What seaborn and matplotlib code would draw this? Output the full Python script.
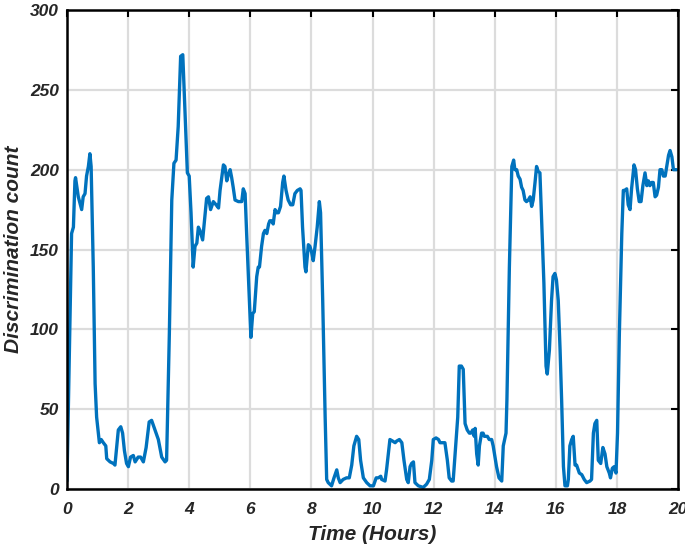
import numpy as np
import pandas as pd
import matplotlib
matplotlib.use("Agg")
import matplotlib.pyplot as plt
import seaborn as sns

# values
hours = [0.0, 0.15, 0.21, 0.26, 0.28, 0.37, 0.48, 0.53, 0.59, 0.64, 0.70, 0.75, 0.79,
         0.86, 0.92, 0.97, 1.06, 1.12, 1.19, 1.27, 1.30, 1.41, 1.52, 1.57, 1.63, 1.68,
         1.76, 1.82, 1.88, 1.95, 2.01, 2.08, 2.17, 2.23, 2.33, 2.41, 2.50, 2.59, 2.69,
         2.77, 2.88, 2.99, 3.10, 3.21, 3.26, 3.35, 3.43, 3.50, 3.57, 3.64, 3.72, 3.79,
         3.86, 3.94, 4.00, 4.06, 4.13, 4.19, 4.25, 4.30, 4.35, 4.44, 4.49, 4.57, 4.63,
         4.70, 4.79, 4.88, 4.96, 5.01, 5.12, 5.17, 5.23, 5.28, 5.34, 5.39, 5.44, 5.50,
         5.61, 5.72, 5.77, 5.83, 5.88, 5.97, 6.02, 6.08, 6.13, 6.21, 6.26, 6.30, 6.37,
         6.43, 6.48, 6.54, 6.60, 6.64, 6.70, 6.75, 6.81, 6.86, 6.92, 6.99, 7.06, 7.10,
         7.17, 7.24, 7.32, 7.39, 7.46, 7.54, 7.63, 7.66, 7.71, 7.79, 7.82, 7.90, 7.95,
         8.01, 8.06, 8.12, 8.19, 8.26, 8.30, 8.37, 8.45, 8.50, 8.55, 8.66, 8.74, 8.83,
         8.88, 8.94, 9.04, 9.15, 9.24, 9.32, 9.39, 9.48, 9.55, 9.61, 9.70, 9.81, 9.92,
         10.03, 10.12, 10.19, 10.27, 10.30, 10.41, 10.46, 10.57, 10.66, 10.74, 10.79,
         10.88, 10.96, 11.03, 11.12, 11.17, 11.23, 11.28, 11.34, 11.39, 11.50, 11.66,
         11.77, 11.86, 11.94, 11.99, 12.08, 12.16, 12.21, 12.30, 12.37, 12.45, 12.51,
         12.59, 12.64, 12.73, 12.79, 12.84, 12.91, 12.97, 13.03, 13.10, 13.17, 13.22,
         13.28, 13.33, 13.36, 13.41, 13.46, 13.50, 13.57, 13.62, 13.66, 13.76, 13.82,
         13.90, 13.95, 14.06, 14.14, 14.23, 14.28, 14.37, 14.40, 14.48, 14.56, 14.62,
         14.66, 14.72, 14.77, 14.83, 14.88, 14.93, 14.99, 15.04, 15.10, 15.16, 15.21,
         15.26, 15.32, 15.37, 15.42, 15.48, 15.53, 15.61, 15.68, 15.72, 15.79, 15.86,
         15.91, 15.97, 16.02, 16.08, 16.14, 16.19, 16.25, 16.30, 16.38, 16.41, 16.46,
         16.52, 16.57, 16.63, 16.68, 16.77, 16.85, 16.93, 17.01, 17.12, 17.17, 17.23,
         17.28, 17.34, 17.39, 17.47, 17.54, 17.61, 17.67, 17.75, 17.79, 17.85, 17.91,
         17.97, 18.02, 18.08, 18.16, 18.21, 18.26, 18.32, 18.37, 18.43, 18.48, 18.56,
         18.61, 18.67, 18.73, 18.79, 18.85, 18.92, 18.98, 19.03, 19.08, 19.14, 19.19,
         19.25, 19.30, 19.36, 19.41, 19.47, 19.52, 19.58, 19.63, 19.69, 19.74, 19.80,
         19.85, 19.95]

counts = [5, 160, 164, 193, 195, 183, 175, 183, 185, 196, 202, 210, 202,
          139, 66, 45, 29, 31, 29, 27, 19, 17, 16, 15, 27, 37,
          39, 35, 24, 16, 14, 20, 21, 17, 20, 20, 17, 26, 42,
          43, 37, 31, 20, 17, 18, 97, 181, 204, 206, 227, 271, 272,
          237, 198, 196, 173, 139, 152, 154, 164, 162, 156, 166, 182, 183,
          175, 180, 178, 176, 187, 203, 202, 193, 197, 200, 195, 189, 181,
          180, 180, 188, 185, 160, 118, 95, 110, 111, 133, 139, 139, 152,
          160, 162, 160, 166, 168, 168, 166, 175, 173, 173, 177, 192, 196,
          187, 181, 178, 178, 185, 187, 188, 187, 164, 139, 136, 153, 152,
          148, 143, 152, 164, 180, 173, 118, 45, 6, 4, 2, 7, 12,
          7, 4, 6, 7, 7, 15, 27, 33, 31, 18, 7, 4, 2,
          2, 7, 7, 8, 6, 5, 12, 31, 30, 29, 30,
          31, 29, 18, 6, 4, 14, 16, 17, 4, 2, 1,
          3, 6, 18, 31, 32, 31, 29, 29, 29, 18, 7,
          5, 5, 29, 45, 77, 77, 75, 41, 37, 35, 35,
          37, 33, 38, 22, 15, 27, 35, 35, 33, 33, 31,
          31, 27, 14, 7, 5, 27, 35, 56, 139, 202, 206,
          200, 200, 196, 194, 189, 187, 181, 180, 181, 183, 177,
          181, 192, 202, 199, 198, 171, 129, 77, 72, 87, 118,
          133, 135, 131, 118, 87, 56, 14, 2, 2, 6, 27,
          31, 33, 15, 15, 10, 9, 6, 4, 5, 6, 35,
          41, 43, 18, 16, 26, 22, 14, 10, 7, 13, 14,
          10, 35, 97, 160, 187, 187, 188, 178, 175, 188, 203,
          200, 188, 180, 180, 190, 198, 190, 193, 190, 192, 192,
          183, 184, 189, 200, 200, 196, 196, 202, 209, 212, 208,
          200, 200]

x_ticks = [0, 2, 4, 6, 8, 10, 12, 14, 16, 18, 20]
y_ticks = [0, 50, 100, 150, 200, 250, 300]

df = pd.DataFrame({"hours": hours, "count": counts})

sns.set_style("white")
plt.rcParams["font.family"] = ["Liberation Sans", "DejaVu Sans"]

fig = plt.figure(figsize=(6.85, 5.52), dpi=100)
ax = fig.add_axes([0.0978, 0.1141, 0.892, 0.8678])

sns.lineplot(data=df, x="hours", y="count", ax=ax, color="#0072BD",
             linewidth=2.4, estimator=None, sort=False)

ax.set_xlim(0, 20)
ax.set_ylim(0, 300)
ax.set_xticks(x_ticks)
ax.set_yticks(y_ticks)
ax.set_xticklabels([str(t) for t in x_ticks], fontsize=12.5,
                   fontweight="bold", fontstyle="italic")
ax.set_yticklabels([str(t) for t in y_ticks], fontsize=12.5,
                   fontweight="bold", fontstyle="italic")
ax.grid(True, color="#dcdcdc", linewidth=1.6)
ax.set_axisbelow(True)
ax.tick_params(direction="in", length=5, width=1.5, top=True, right=True,
               color="black")
ax.tick_params(axis="x", pad=9)
ax.tick_params(axis="y", pad=6)
for s in ax.spines.values():
    s.set_visible(True)
    s.set_color("black")
    s.set_linewidth(1.8)

ax.set_xlabel("Time (Hours)", fontsize=15, fontweight="bold",
              fontstyle="italic", labelpad=6)
ax.set_ylabel("Discrimination count", fontsize=15, fontweight="bold",
              fontstyle="italic", labelpad=5)

plt.savefig("out.png", dpi=100)
plt.close()
